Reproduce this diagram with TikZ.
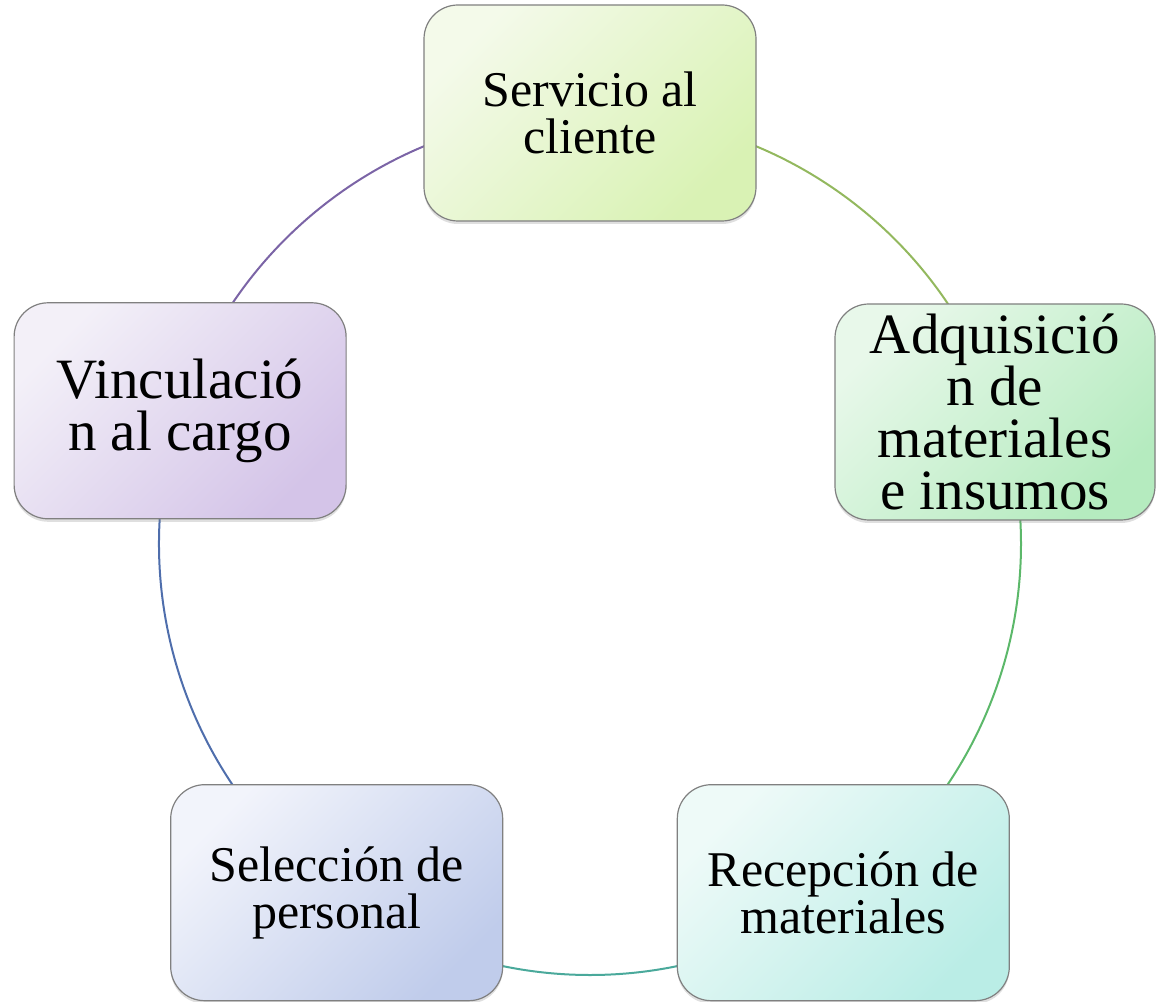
\documentclass[tikz,border=0pt]{standalone}
\usepackage{fontspec}
\setmainfont{Liberation Serif}
\usetikzlibrary{shadows}
\pgfdeclarelayer{bg}
\pgfsetlayers{bg,main}
% fills and ring colours
\definecolor{servlight}{HTML}{F4FAEA}
\definecolor{servdark}{HTML}{D9F2B4}
\definecolor{adqlight}{HTML}{E8F8EA}
\definecolor{adqdark}{HTML}{B5EBBF}
\definecolor{reclight}{HTML}{EEFAF8}
\definecolor{recdark}{HTML}{BAEDE6}
\definecolor{sellight}{HTML}{F2F4FB}
\definecolor{seldark}{HTML}{C0CCEB}
\definecolor{vinclight}{HTML}{F3F0F8}
\definecolor{vincdark}{HTML}{D4C4E8}
\definecolor{ringolive}{HTML}{93B85E}
\definecolor{ringgreen}{HTML}{5CB86A}
\definecolor{ringteal}{HTML}{4AA99B}
\definecolor{ringblue}{HTML}{4F6EAC}
\definecolor{ringpurple}{HTML}{7B64A6}
\begin{document}
\begin{tikzpicture}[line join=bevel,
  stagebox/.style={draw=black!50,line width=1.2bp,rounded corners=34bp,
    minimum width=332bp,minimum height=216bp,inner sep=0pt,align=center,
    font=\fontsize{50bp}{47bp}\selectfont,
    drop shadow={shadow xshift=0bp,shadow yshift=-3bp,opacity=0.25}},
  stagefill/.style 2 args={top color=#1,bottom color=#2,shading angle=45},
  bigtext/.style={font=\fontsize{57bp}{52bp}\selectfont},
  ring/.style={line width=2bp}]
%%
\useasboundingbox (0bp,0bp) rectangle (1156bp,1002bp);
\node (servicio) at (590bp,889bp) [stagebox,stagefill={servlight}{servdark}] {Servicio al\\cliente};
  \node (adquisicion) at (995bp,590bp) [stagebox,bigtext,minimum width=320bp,stagefill={adqlight}{adqdark}] {Adquisició\\n de\\materiales\\e insumos};
  \node (recepcion) at (843.3bp,109.3bp) [stagebox,stagefill={reclight}{recdark}] {Recepción de\\materiales};
  \node (seleccion) at (336.7bp,109.3bp) [stagebox,stagefill={sellight}{seldark}] {Selección de\\personal};
  \node (vinculacion) at (180.1bp,591.2bp) [stagebox,bigtext,stagefill={vinclight}{vincdark}] {Vinculació\\n al cargo};
\begin{pgfonlayer}{bg}
  \draw [ring,ringolive] (servicio.center) arc[start angle=90,end angle=18,radius=431bp];
  \draw [ring,ringgreen] (recepcion.center) arc[start angle=-54,end angle=18,radius=431bp];
  \draw [ring,ringteal] (seleccion.center) arc[start angle=234,end angle=306,radius=431bp];
  \draw [ring,ringblue] (vinculacion.center) arc[start angle=162,end angle=234,radius=431bp];
  \draw [ring,ringpurple] (servicio.center) arc[start angle=90,end angle=162,radius=431bp];
\end{pgfonlayer}
%
\end{tikzpicture}
\end{document}
